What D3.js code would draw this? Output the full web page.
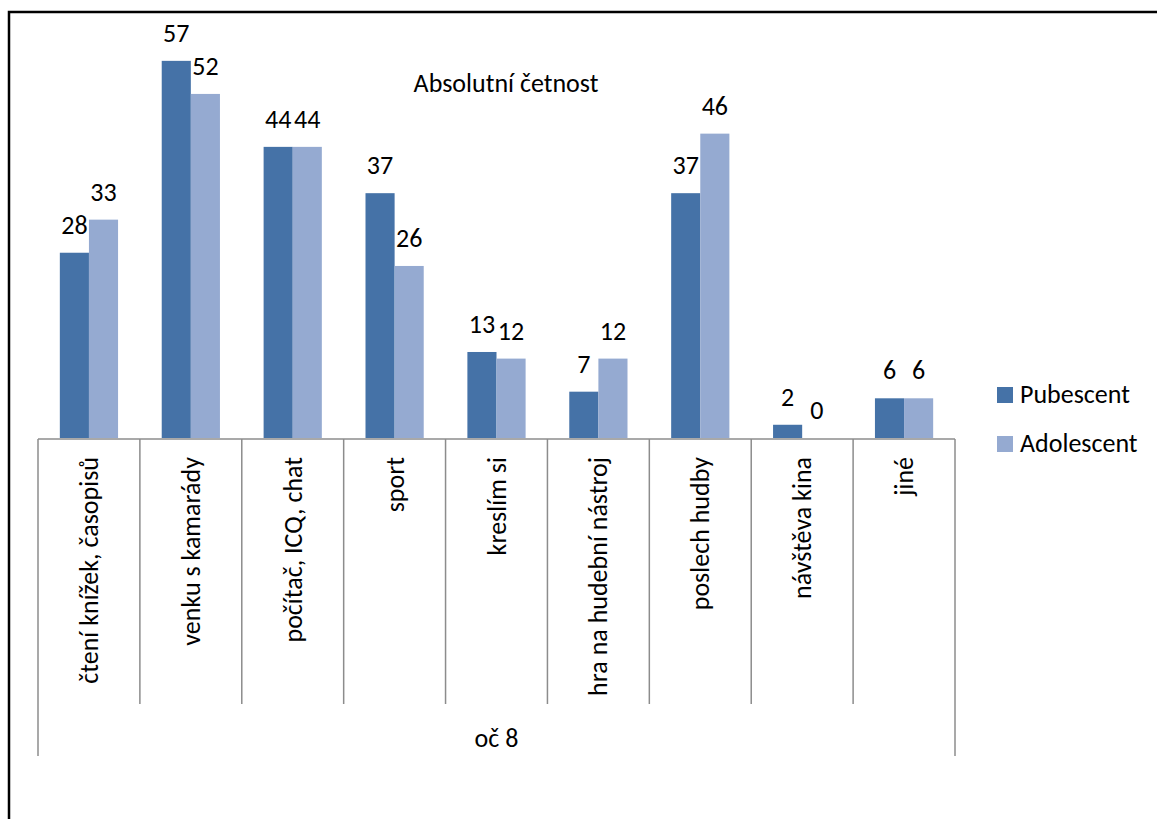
<!DOCTYPE html>
<html lang="cs">
<head>
<meta charset="UTF-8" />
<title>Absolutní četnost</title>
<script src="https://d3js.org/d3.v7.min.js"></script>
<style>
  body { margin: 0; background: #fff; }
  svg { display: block; font-family: Carlito, Calibri, Lato, sans-serif; }
</style>
</head>
<body>
<svg id="chart" width="1157" height="819"></svg>
<script>
const categories = ["čtení knížek, časopisů", "venku s kamarády", "počítač, ICQ, chat", "sport",
  "kreslím si", "hra na hudební nástroj", "poslech hudby", "návštěva kina", "jiné"];
const seriesNames = ["Pubescent", "Adolescent"];
const pubescent = [28, 57, 44, 37, 13, 7, 37, 2, 6];
const adolescent = [33, 52, 44, 26, 12, 12, 46, 0, 6];
const groupLabel = "oč 8";
const title = "Absolutní četnost";

const colors = { Pubescent: "#4572a7", Adolescent: "#95aad1" };
const fontSize = 26;
const svg = d3.select("#chart");

// frame of the chart area (runs off the right and bottom edge)
svg.append("rect")
  .attr("x", 9).attr("y", 12)
  .attr("width", 1300).attr("height", 1000)
  .attr("fill", "none").attr("stroke", "#000").attr("stroke-width", 2.5);

const x = d3.scaleBand().domain(categories).range([38, 955]);
const xs = d3.scaleBand().domain(seriesNames).range([0, x.bandwidth()]).paddingOuter(0.75);
const y = d3.scaleLinear().domain([0, 60]).range([438, 41]);

const rows = categories.map((c, i) => ({ cat: c, Pubescent: pubescent[i], Adolescent: adolescent[i] }));

const groups = svg.selectAll(".group")
  .data(rows)
  .enter()
  .append("g")
  .attr("class", "group")
  .attr("transform", d => `translate(${x(d.cat)},0)`);

groups.selectAll("rect")
  .data(d => seriesNames.map(s => ({ s, v: d[s] })))
  .enter()
  .append("rect")
  .attr("x", d => xs(d.s))
  .attr("y", d => y(d.v))
  .attr("width", xs.bandwidth())
  .attr("height", d => y(0) - y(d.v))
  .attr("fill", d => colors[d.s]);

groups.selectAll(".val")
  .data(d => seriesNames.map(s => ({ s, v: d[s] })))
  .enter()
  .append("text")
  .attr("class", "val")
  .attr("x", d => xs(d.s) + xs.bandwidth() / 2)
  .attr("y", d => y(d.v) - 19)
  .attr("text-anchor", "middle")
  .attr("font-size", fontSize)
  .attr("fill", "#000")
  .text(d => d.v);

// category axis
const axisColor = "#8c8c8c";
svg.append("line")
  .attr("x1", 38).attr("x2", 955)
  .attr("y1", 439).attr("y2", 439)
  .attr("stroke", axisColor).attr("stroke-width", 1.5);

const bounds = categories.map(c => x(c)).concat([x.range()[1]]);
svg.selectAll(".tick")
  .data(bounds)
  .enter()
  .append("line")
  .attr("class", "tick")
  .attr("x1", d => d).attr("x2", d => d)
  .attr("y1", 439)
  .attr("y2", (d, i) => (i === 0 || i === bounds.length - 1) ? 756 : 704)
  .attr("stroke", axisColor).attr("stroke-width", 1.5);

svg.selectAll(".catlabel")
  .data(categories)
  .enter()
  .append("text")
  .attr("class", "catlabel")
  .attr("transform", d => `translate(${x(d) + x.bandwidth() / 2},457) rotate(-90)`)
  .attr("dy", "0.35em")
  .attr("text-anchor", "end")
  .attr("font-size", fontSize)
  .text(d => d);

svg.append("text")
  .attr("x", (x.range()[0] + x.range()[1]) / 2)
  .attr("y", 747)
  .attr("text-anchor", "middle")
  .attr("font-size", fontSize)
  .text(groupLabel);

svg.append("text")
  .attr("x", 506).attr("y", 92)
  .attr("text-anchor", "middle")
  .attr("font-size", fontSize)
  .text(title);

// legend
const legend = svg.selectAll(".legend")
  .data(seriesNames)
  .enter()
  .append("g")
  .attr("class", "legend")
  .attr("transform", (d, i) => `translate(997,${387 + i * 49})`);

legend.append("rect")
  .attr("width", 16).attr("height", 16)
  .attr("fill", d => colors[d]);

legend.append("text")
  .attr("x", 23).attr("y", 16)
  .attr("font-size", fontSize)
  .text(d => d);
</script>
</body>
</html>
